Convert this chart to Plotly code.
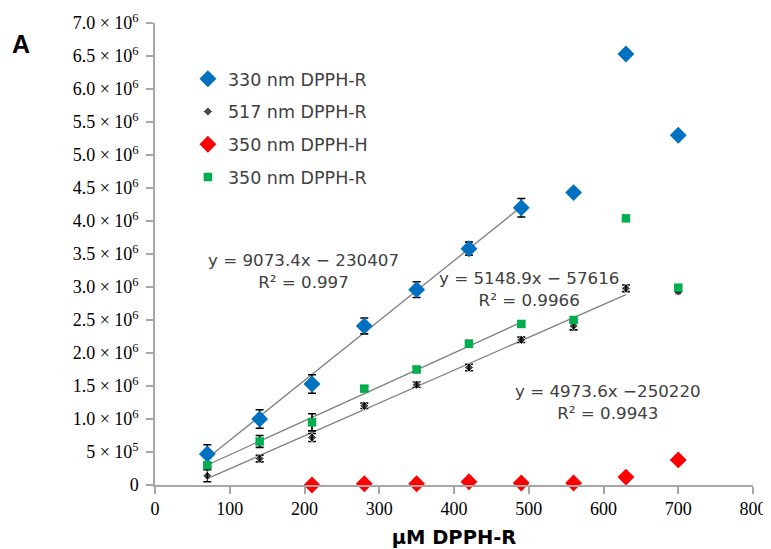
import plotly.graph_objects as go

# ---- data ----
conc = [70, 140, 210, 280, 350, 420, 490, 560, 630, 700]

blue_330_R = [0.47e6, 1.00e6, 1.53e6, 2.41e6, 2.96e6, 3.58e6, 4.20e6, 4.43e6, 6.53e6, 5.30e6]
blue_err = [0.14e6, 0.14e6, 0.14e6, 0.12e6, 0.12e6, 0.10e6, 0.14e6, None, None, None]

black_517_R = [0.14e6, 0.40e6, 0.72e6, 1.20e6, 1.52e6, 1.78e6, 2.20e6, 2.41e6, 2.98e6, 2.93e6]
black_err = [0.09e6, 0.05e6, 0.06e6, 0.04e6, 0.04e6, 0.05e6, 0.04e6, 0.06e6, 0.05e6, None]

red_conc = [210, 280, 350, 420, 490, 560, 630, 700]
red_350_H = [0.0, 0.02e6, 0.02e6, 0.05e6, 0.03e6, 0.03e6, 0.12e6, 0.38e6]

green_350_R = [0.30e6, 0.66e6, 0.95e6, 1.46e6, 1.75e6, 2.14e6, 2.44e6, 2.50e6, 4.04e6, 2.99e6]
green_err = [0.03e6, 0.09e6, 0.13e6, 0.04e6, 0.04e6, 0.05e6, 0.04e6, None, None, None]

# linear fits shown on the chart: (slope, intercept, x-start, x-end)
fit_blue = (9073.4, -230407, 70, 490)
fit_green = (5148.9, -57616, 70, 490)
fit_black = (4973.6, -250220, 70, 630)

y_tickvals = [0, 0.5e6, 1.0e6, 1.5e6, 2.0e6, 2.5e6, 3.0e6, 3.5e6, 4.0e6, 4.5e6,
              5.0e6, 5.5e6, 6.0e6, 6.5e6, 7.0e6]
y_ticktext = ["0", "5 × 10<sup>5</sup>"] + [
    f"{v/1e6:.1f} × 10<sup>6</sup>" for v in y_tickvals[2:]]

BLUE = "#0070C0"
RED = "#FF0000"
GREEN = "#00B050"
GRAY_LINE = "#7F7F7F"
TXT = "#404040"

fig = go.Figure()

# trend lines
for slope, icpt, x0, x1 in (fit_blue, fit_green, fit_black):
    xs = [x0, x1]
    fig.add_trace(go.Scatter(x=xs, y=[slope * v + icpt for v in xs], mode="lines",
                             line=dict(color=GRAY_LINE, width=1.3),
                             showlegend=False, hoverinfo="skip"))

err_style = dict(type="data", color="black", thickness=1.6, width=4, visible=True)

fig.add_trace(go.Scatter(
    x=conc, y=blue_330_R, mode="markers", name="330 nm DPPH-R", legendgroup="a",
    marker=dict(symbol="diamond", size=13, color=BLUE), cliponaxis=False,
    error_y=dict(array=blue_err, **err_style)))

fig.add_trace(go.Scatter(
    x=conc, y=black_517_R, mode="markers", name="517 nm DPPH-R", legendgroup="b",
    marker=dict(symbol=["diamond"] * 9 + ["circle"], size=[7] * 9 + [8], color="black"),
    cliponaxis=False, error_y=dict(array=black_err, **err_style)))

fig.add_trace(go.Scatter(
    x=red_conc, y=red_350_H, mode="markers", name="350 nm DPPH-H", legendgroup="c",
    marker=dict(symbol="diamond", size=13, color=RED), cliponaxis=False))

fig.add_trace(go.Scatter(
    x=conc, y=green_350_R, mode="markers", name="350 nm DPPH-R", legendgroup="d",
    marker=dict(symbol="square", size=8.5, color=GREEN), cliponaxis=False,
    error_y=dict(array=green_err, **err_style)))

# equation labels
ann_font = dict(family="DejaVu Sans", size=16.7, color=TXT)
eqs = [
    (199, 3.24e6, "y = 9073.4x − 230407<br>R² = 0.997"),
    (500, 2.97e6, "y = 5148.9x − 57616<br>R² = 0.9966"),
    (606, 1.26e6, "y = 4973.6x −250220<br>R² = 0.9943"),
]
for x, y, t in eqs:
    fig.add_annotation(x=x, y=y, text=t, showarrow=False, font=ann_font,
                       xanchor="center", yanchor="middle", align="center")

fig.add_annotation(xref="paper", yref="paper", x=-0.2425, y=0.955, text="<b>A</b>",
                   showarrow=False, xanchor="left", yanchor="middle",
                   font=dict(family="Liberation Sans", size=25, color="black"))

axis_common = dict(showline=True, linecolor="#A6A6A6", linewidth=1.5, showgrid=False,
                   zeroline=False, ticks="outside", ticklen=7, tickcolor="#A6A6A6",
                   tickwidth=1.5, automargin=False,
                   tickfont=dict(family="Liberation Serif", size=18, color="black"))

# the page body adds an 8px offset, so margins are compensated for it
fig.update_layout(
    template="none",
    width=771, height=549,
    margin=dict(l=147, r=26, t=15, b=72),
    paper_bgcolor="white", plot_bgcolor="white",
    xaxis=dict(range=[0, 800], tickvals=list(range(0, 801, 100)),
               title=dict(text="<b>μM DPPH-R</b>", standoff=12,
                          font=dict(family="DejaVu Sans", size=19.5, color="black")),
               **axis_common),
    yaxis=dict(range=[0, 7e6], tickvals=y_tickvals, ticktext=y_ticktext,
               ticklabelstandoff=4, **axis_common),
    legend=dict(x=0.055, y=0.918, xanchor="left", yanchor="top",
                font=dict(family="DejaVu Sans", size=17.5, color=TXT),
                tracegroupgap=7, bgcolor="rgba(0,0,0,0)"),
    showlegend=True,
)

fig.write_html("out.html")
